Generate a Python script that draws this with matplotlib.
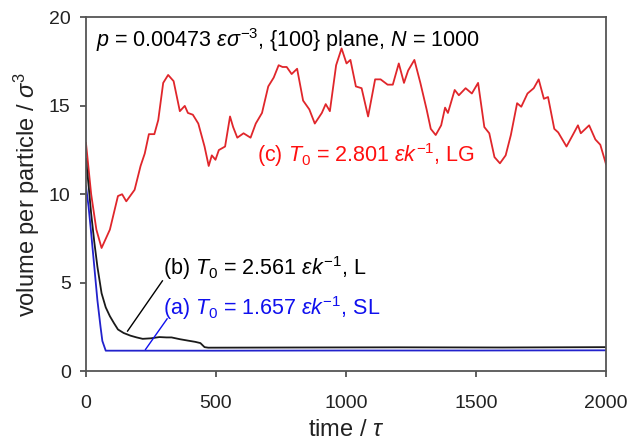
import matplotlib
matplotlib.use('Agg')
import matplotlib.pyplot as plt

plt.rcParams['font.family'] = ['Liberation Sans', 'DejaVu Sans']
plt.rcParams['mathtext.fontset'] = 'custom'
plt.rcParams['mathtext.rm'] = 'Liberation Sans'
plt.rcParams['mathtext.it'] = 'Liberation Sans:italic'
plt.rcParams['mathtext.bf'] = 'Liberation Sans:bold'

# (c) T0 = 2.801, LG  (red)
t_c = [0, 20, 40, 60, 92, 123, 139, 155, 187, 210, 226, 242, 263, 278, 297, 316,
       337, 361, 380, 392, 411, 432, 456, 472, 484, 498, 511, 535, 554, 566, 582,
       606, 633, 653, 677, 701, 722, 741, 756, 772, 791, 812, 835, 859, 880, 907,
       922, 938, 962, 983, 1002, 1017, 1038, 1060, 1085, 1112, 1133, 1160, 1180,
       1203, 1223, 1239, 1263, 1286, 1310, 1326, 1345, 1366, 1381, 1392, 1418,
       1434, 1460, 1484, 1508, 1532, 1551, 1571, 1592, 1614, 1634, 1658, 1674,
       1698, 1722, 1741, 1761, 1777, 1801, 1816, 1848, 1872, 1892, 1903, 1935,
       1959, 1978, 2000]
v_c = [12.9, 10.0, 8.0, 6.96, 8.0, 9.9, 10.0, 9.6, 10.25, 11.6, 12.3, 13.4, 13.4,
       14.2, 16.3, 16.75, 16.4, 14.7, 15.0, 14.6, 14.5, 14.0, 12.7, 11.6, 12.2,
       11.95, 12.5, 12.7, 14.4, 13.8, 13.2, 13.45, 13.2, 14.0, 14.6, 16.1, 16.6,
       17.3, 17.2, 17.2, 16.8, 17.1, 15.3, 14.8, 14.0, 14.6, 15.1, 14.7, 17.3,
       18.25, 17.4, 17.6, 16.1, 16.0, 14.4, 16.5, 16.5, 16.2, 16.2, 17.4, 16.3,
       17.0, 17.6, 16.3, 14.8, 13.7, 13.35, 13.9, 14.9, 14.6, 15.9, 15.6, 16.0,
       15.7, 16.3, 13.8, 13.45, 12.1, 11.75, 12.2, 13.35, 15.15, 14.95, 15.7,
       16.0, 16.5, 15.4, 15.5, 13.7, 13.5, 12.7, 13.35, 13.9, 13.45, 13.9, 13.1,
       12.8, 11.7]

# (b) T0 = 2.561, L  (black)
t_b = [0, 10, 20, 32, 44, 60, 76, 92, 108, 123, 145, 171, 195, 218, 250, 282,
       310, 329, 361, 392, 420, 440, 456, 470, 800, 1200, 1600, 2000]
v_b = [12.0, 10.5, 8.9, 7.3, 5.9, 4.4, 3.6, 3.1, 2.7, 2.35, 2.15, 2.0, 1.9, 1.82,
       1.85, 1.92, 1.9, 1.9, 1.8, 1.72, 1.65, 1.58, 1.35, 1.32, 1.33, 1.34,
       1.33, 1.35]

# (a) T0 = 1.657, SL  (blue)
t_a = [0, 10, 20, 32, 44, 56, 63, 76, 500, 1000, 1500, 2000]
v_a = [10.45, 9.3, 7.8, 5.9, 4.0, 2.5, 1.7, 1.15, 1.15, 1.16, 1.16, 1.17]

fig = plt.figure(figsize=(6.43, 4.44), dpi=100)
ax = fig.add_axes([0.1337, 0.1644, 0.8088, 0.7962])

ax.plot(t_c, v_c, color='#e0262b', lw=1.3)
ax.plot(t_b, v_b, color='#1a1a1a', lw=1.3)
ax.plot(t_a, v_a, color='#2222cc', lw=1.3)

ax.set_xlim(0, 2000)
ax.set_ylim(0, 20)
ax.set_xticks([0, 500, 1000, 1500, 2000])
ax.set_yticks([0, 5, 10, 15, 20])
ax.tick_params(direction='out', length=4, width=1.2, color='#444444',
               labelsize=14, labelcolor='#222222')
ax.tick_params(axis='x', pad=13)
ax.tick_params(axis='y', pad=7)
for s in ax.spines.values():
    s.set_color('#555555')
    s.set_linewidth(1.3)

ax.set_xlabel(r'time / $\tau$', fontsize=17, color='#222222', labelpad=5)
ax.set_ylabel(r'volume per particle / $\sigma^3$', fontsize=17,
              color='#222222', labelpad=5)

ax.text(40, 18.7, r'$p$ = 0.00473 $\varepsilon\sigma^{-3}$, {100} plane, $N$ = 1000',
        fontsize=15.5, va='center', ha='left', color='black')
ax.text(657, 12.2, r'(c) $T_\mathrm{0}$ = 2.801 $\varepsilon k^{-1}$, LG',
        fontsize=15.5, va='center', ha='left', color='#ff1010')
ax.text(296, 5.8, r'(b) $T_\mathrm{0}$ = 2.561 $\varepsilon k^{-1}$, L',
        fontsize=15.5, va='center', ha='left', color='black')
ax.text(296, 3.55, r'(a) $T_\mathrm{0}$ = 1.657 $\varepsilon k^{-1}$, SL',
        fontsize=15.5, va='center', ha='left', color='#1010ee')

# leader lines
ax.plot([160, 294], [2.26, 5.1], color='black', lw=1.0)
ax.plot([229, 312], [1.22, 2.95], color='#1010ee', lw=1.0)

fig.savefig('out.png', dpi=100)
